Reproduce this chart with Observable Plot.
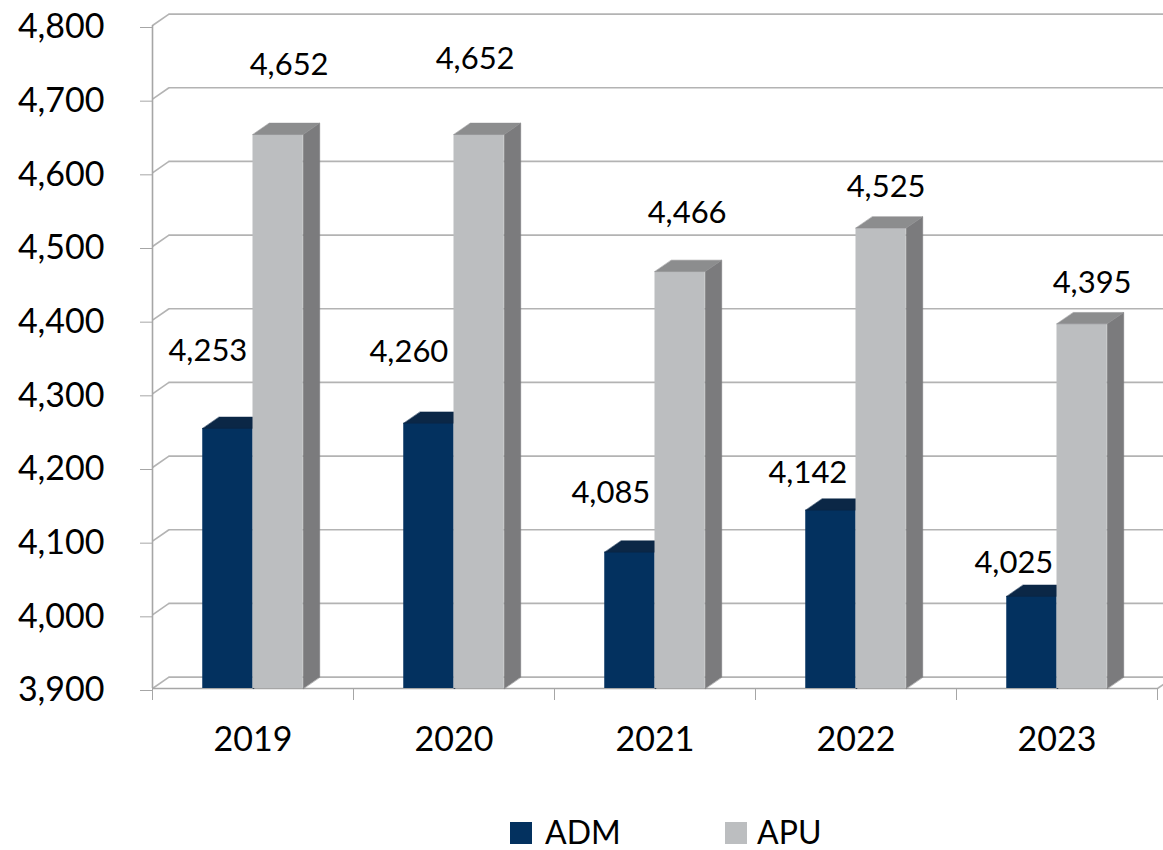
<!DOCTYPE html>
<html>
<head>
<meta charset="utf-8">
<script src="https://cdn.jsdelivr.net/npm/d3@7"></script>
<script src="https://cdn.jsdelivr.net/npm/@observablehq/plot@0.6"></script>
<style>
  body { margin: 0; background: #fff; font-family: Lato, "Open Sans", sans-serif; }
  #legend { position: relative; width: 1163px; height: 50px; font-size: 32px; color: #000; }
  #legend .sw { position: absolute; top: 22px; width: 22px; height: 22px; }
  #legend .lb { position: absolute; top: 16px; line-height: 32px; }
</style>
</head>
<body>
<div id="chart"></div>
<div id="legend"></div>
<script>
// ---- data ----
const years = ["2019", "2020", "2021", "2022", "2023"];
const seriesNames = ["ADM", "APU"];
const admValues = [4253, 4260, 4085, 4142, 4025];
const apuValues = [4652, 4652, 4466, 4525, 4395];
const yTicks = [3900, 4000, 4100, 4200, 4300, 4400, 4500, 4600, 4700, 4800];

// ---- style / layout ----
const colors = {
  ADM: { front: "#03315f", top: "#0b2746", side: "#021f3d" },
  APU: { front: "#bcbec0", top: "#8c8d8e", side: "#7b7b7d" }
};
const gridColor = "#b3b3b3";
const DX = 0.082;   // depth offset in x units (~16px)
const DY = 15.5;    // depth offset in value units (~11px)
// label nudges (pixels) per series per year
const labelNudge = {
  ADM: [[-20, -77], [-20, -71], [-19, -59], [-23, -37], [-18, -33]],
  APU: [[11, -69], [-4, -75], [7, -58], [5, -41], [10, -41]]
};

const fmt = d3.format(",");
const series = { ADM: admValues, APU: apuValues };

const bars = years.flatMap((yr, i) => seriesNames.map((s, k) => {
  const x1 = i + 0.25 + 0.25 * k;
  return { series: s, year: yr, i, x1, x2: x1 + 0.25, v: series[s][i], id: s + yr };
}));

const base = yTicks[0];
const topPts = bars.flatMap(b => [
  [b.x1, b.v], [b.x2, b.v], [b.x2 + DX, b.v + DY], [b.x1 + DX, b.v + DY]
].map(([x, y]) => ({ id: b.id, series: b.series, x, y })));
const sidePts = bars.flatMap(b => [
  [b.x2, base], [b.x2, b.v], [b.x2 + DX, b.v + DY], [b.x2 + DX, base + DY]
].map(([x, y]) => ({ id: b.id, series: b.series, x, y })));

const marks = [];
// back wall grid lines
marks.push(Plot.ruleY(yTicks, { y: d => d + DY, x1: DX, x2: 5 + DX + 0.2, stroke: gridColor, strokeWidth: 1.6 }));
// side wall diagonals
marks.push(Plot.link(yTicks, { x1: 0, y1: d => d, x2: DX, y2: d => d + DY, stroke: gridColor, strokeWidth: 1.6 }));
// right floor diagonal
marks.push(Plot.link([base], { x1: 5, y1: d => d, x2: 5 + DX, y2: d => d + DY, stroke: gridColor, strokeWidth: 1.6 }));
// front floor edge and vertical axis line
marks.push(Plot.ruleY([base], { x1: 0, x2: 5, stroke: "#a6a6a6", strokeWidth: 1.6 }));
marks.push(Plot.ruleX([0], { y1: base, y2: yTicks[yTicks.length - 1], stroke: "#a6a6a6", strokeWidth: 1.6 }));

for (const s of seriesNames) {
  const c = colors[s];
  marks.push(Plot.line(sidePts.filter(d => d.series === s), {
    x: "x", y: "y", z: "id", curve: "linear-closed", fill: c.side, stroke: c.side, strokeWidth: 0.5
  }));
  marks.push(Plot.rect(bars.filter(d => d.series === s), {
    x1: "x1", x2: "x2", y1: base, y2: "v", fill: c.front, inset: 0
  }));
  marks.push(Plot.line(topPts.filter(d => d.series === s), {
    x: "x", y: "y", z: "id", curve: "linear-closed", fill: c.top, stroke: c.top, strokeWidth: 0.5
  }));
}

// axes
marks.push(Plot.axisY(yTicks, {
  tickSize: 12, tickPadding: 36, tickFormat: fmt, fontSize: 34, stroke: "#a6a6a6", fill: "#000", dy: 2
}));
marks.push(Plot.axisX([0, 1, 2, 3, 4, 5], {
  tickSize: 12, tickFormat: () => "", stroke: "#a6a6a6"
}));
marks.push(Plot.text(years, {
  x: (d, i) => i + 0.5, y: () => base, text: d => d, dy: 52, fontSize: 34, fill: "#000"
}));

// value labels
for (const b of bars) {
  const [ndx, ndy] = labelNudge[b.series][b.i];
  marks.push(Plot.text([b], {
    x: d => (d.x1 + d.x2) / 2, y: "v", text: d => fmt(d.v),
    dx: ndx, dy: ndy, fontSize: 31, fill: "#000"
  }));
}

const chart = Plot.plot({
  width: 1163,
  height: 800,
  marginLeft: 152,
  marginRight: 6,
  marginTop: 25,
  marginBottom: 112,
  style: { fontFamily: "Lato, 'Open Sans', sans-serif", background: "#fff", color: "#000" },
  x: { type: "linear", domain: [0, 5], axis: null },
  y: { domain: [yTicks[0], yTicks[yTicks.length - 1]], axis: null },
  marks
});
document.getElementById("chart").appendChild(chart);

// legend
const legend = document.getElementById("legend");
const legendPos = { ADM: [510, 545], APU: [725, 757] };
for (const s of seriesNames) {
  const sw = document.createElement("div");
  sw.className = "sw";
  sw.style.left = legendPos[s][0] + "px";
  sw.style.background = colors[s].front;
  const lb = document.createElement("div");
  lb.className = "lb";
  lb.style.left = legendPos[s][1] + "px";
  lb.textContent = s;
  legend.appendChild(sw);
  legend.appendChild(lb);
}
</script>
</body>
</html>
